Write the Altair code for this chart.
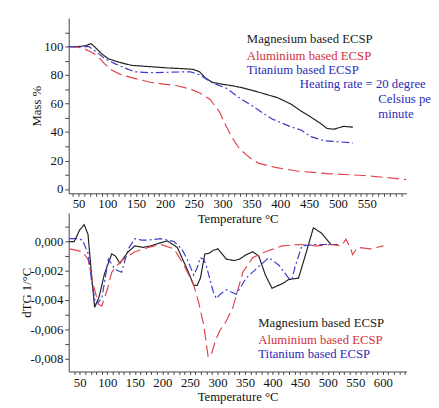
import altair as alt
import pandas as pd

FONT = "Liberation Serif"
SERIES = ["Magnesium based ECSP", "Aluminium based ECSP", "Titanium based ECSP"]
COLORS = ["#222222", "#e2444c", "#3a3acc"]
TEXT_COLORS = ["#1a1a1a", "#d4303a", "#2c2cb8"]
DASHES = [[1, 0], [12, 5], [8, 3, 2, 3]]

# ---- TG (mass %) ----
mg_t = [33, 50, 62, 68, 72, 80, 90, 102, 120, 142, 170, 204, 230, 249, 260, 270, 283, 300, 317, 335, 351, 375, 396, 419, 435, 453, 470, 481, 493, 510, 526]
mg_m = [100, 100, 100.5, 101.5, 102, 99, 95, 91.4, 89, 86.8, 86, 85, 84.5, 84, 82.3, 78, 74.8, 73.5, 72.5, 71, 69.3, 66.5, 64, 59.5, 55, 50.5, 46, 42.5, 42, 44, 43.4]
al_t = [33, 50, 62, 75, 85, 95, 108, 125, 147, 176, 200, 221, 244, 262, 278, 295, 305, 317, 328, 340, 352, 363, 391, 431, 487, 544, 580, 619]
al_m = [100, 99.5, 98, 95.5, 92.5, 88, 83.4, 80, 77.7, 74.8, 73.5, 72.5, 70.2, 67, 63, 53.9, 45, 35.7, 29, 24.3, 20.5, 18, 15.2, 12.5, 10.7, 9.5, 8.2, 6.6]
ti_t = [33, 50, 68, 80, 91, 100, 113, 130, 147, 176, 210, 244, 261, 283, 306, 329, 351, 385, 419, 436, 453, 476, 500, 526]
ti_m = [100, 100, 100, 96.5, 93, 90.5, 88, 85, 82.3, 81.6, 82, 82.3, 80, 74.3, 70.9, 64, 58.4, 49.3, 43.6, 41.4, 36.8, 33.9, 33.2, 32.3]

# ---- dTG ----
mgd_t = [31, 40, 50, 58, 65, 72, 77, 85, 95, 108, 115, 123, 130, 138, 150, 165, 179, 195, 209, 227, 245, 257, 263, 269, 277, 285, 292, 301, 316, 330, 340, 352, 364, 375, 387, 399, 410, 417, 429, 447, 459, 474, 488, 506, 518]
mgd_v = [0.0, 0.0, 0.0008, 0.00116, 0.0005, -0.0025, -0.0045, -0.0038, -0.0022, -0.00085, -0.001, -0.0015, -0.0011, -0.0007, -0.0003, -0.0004, -0.0003, -0.0001, 0.00004, -0.0004, -0.0019, -0.003, -0.003, -0.0025, -0.00085, -0.0008, -0.0006, -0.0005, -0.0012, -0.0013, -0.0012, -0.0009, -0.0007, -0.001, -0.0023, -0.0032, -0.003, -0.0029, -0.0026, -0.0025, -0.001, 0.00094, 0.0006, -0.0002, -0.0002]
ald_t = [31, 45, 55, 65, 75, 84, 90, 100, 108, 126, 150, 175, 197, 221, 239, 257, 266, 275, 283, 289, 296, 304, 315, 328, 337, 346, 364, 387, 417, 447, 480, 506, 525, 533, 538, 542, 545, 554, 577, 601]
ald_v = [-0.0005, -0.0006, -0.0007, -0.0012, -0.003, -0.0043, -0.0044, -0.0033, -0.0021, -0.0013, -0.0007, -0.0004, -0.0002, -0.0005, -0.0016, -0.003, -0.0042, -0.0057, -0.0079, -0.0077, -0.0068, -0.0061, -0.0055, -0.0045, -0.0033, -0.0021, -0.0011, -0.0007, -0.0003, -0.0002, -0.0003, -0.0002, -0.0003, 0.00016, -0.0002, -0.0005, -0.0009, -0.0004, -0.0005, -0.0003]
tid_t = [31, 45, 55, 65, 72, 79, 90, 102, 114, 126, 138, 150, 162, 174, 197, 221, 235, 245, 257, 263, 269, 275, 280, 292, 298, 305, 316, 334, 352, 375, 393, 411, 429, 435, 441, 453, 477, 506]
tid_v = [0.0002, 0.0002, 0.0001, -0.0008, -0.0028, -0.0043, -0.0039, -0.0012, -0.0019, -0.0021, -0.0005, 0.0002, 0.0001, 0.0001, 0.0002, 0.0, -0.0005, -0.0012, -0.0023, -0.0018, -0.0011, -0.0012, -0.0017, -0.0034, -0.0039, -0.0036, -0.0033, -0.0036, -0.0025, -0.0017, -0.0011, -0.0016, -0.0025, -0.0026, -0.0017, -0.0003, -0.0002, -0.0002]

top_notes = ["Magnesium based ECSP", "Aluminium based ECSP", "Titanium based ECSP",
             "Heating rate = 20 degree", "Celsius per", "minute"]
bottom_notes = ["Magnesium based ECSP", "Aluminium based ECSP", "Titanium based ECSP"]


def frame(ts, vs, name):
    return pd.DataFrame({"t": ts, "v": vs, "s": name})


top_df = pd.concat([frame(mg_t, mg_m, SERIES[0]), frame(al_t, al_m, SERIES[1]), frame(ti_t, ti_m, SERIES[2])])
bot_df = pd.concat([frame(mgd_t, mgd_v, SERIES[0]), frame(ald_t, ald_v, SERIES[1]), frame(tid_t, tid_v, SERIES[2])])

color = alt.Color("s:N", scale=alt.Scale(domain=SERIES, range=COLORS), legend=None)
dash = alt.StrokeDash("s:N", scale=alt.Scale(domain=SERIES, range=DASHES), legend=None)
order = alt.Order("t:Q")
tcolor = alt.Color("c:N", scale=None)

axis_common = dict(labelOverlap=False, labelFlush=False, grid=False)

# ---------- top panel ----------
x_top = alt.X("t:Q", scale=alt.Scale(domain=[33, 619], nice=False, zero=False),
              axis=alt.Axis(values=list(range(40, 620, 10)), tickSize=3,
                            labelExpr="datum.value % 50 == 0 && datum.value <= 550 ? datum.label : ''",
                            title="Temperature °C", titlePadding=2, **axis_common))
y_top = alt.Y("v:Q", scale=alt.Scale(domain=[-3, 120], nice=False, zero=False),
              axis=alt.Axis(values=list(range(0, 111, 10)), tickSize=4,
                            labelExpr="datum.value % 20 == 0 && datum.value <= 100 ? datum.label : ''",
                            title="Mass %", titleX=-26, **axis_common))

top_lines = alt.Chart(top_df).mark_line(strokeWidth=1.2, clip=True).encode(
    x=x_top, y=y_top, color=color, strokeDash=dash, order=order)

top_text_df = pd.DataFrame({
    "t": [342, 342, 342, 434, 570, 570],
    "v": [105, 93.5, 83.3, 73.7, 62.8, 52.6],
    "label": top_notes,
    "c": [TEXT_COLORS[0], TEXT_COLORS[1], TEXT_COLORS[2], TEXT_COLORS[2], TEXT_COLORS[2], TEXT_COLORS[2]],
})
top_text_main = alt.Chart(top_text_df.iloc[:4]).mark_text(
    align="left", baseline="middle", font=FONT, fontSize=13).encode(
    x=x_top, y=y_top, text="label:N", color=tcolor)
top_text_edge = alt.Chart(top_text_df.iloc[4:]).mark_text(
    align="left", baseline="middle", font=FONT, fontSize=13, limit=54, ellipsis="\u200b").encode(
    x=x_top, y=y_top, text="label:N", color=tcolor)

top = alt.layer(top_lines, top_text_main, top_text_edge).properties(width=345, height=179)

# ---------- bottom panel ----------
x_bot = alt.X("t:Q", scale=alt.Scale(domain=[30, 643], nice=False, zero=False),
              axis=alt.Axis(values=list(range(40, 641, 10)), tickSize=3,
                            labelExpr="datum.value % 50 == 0 && datum.value <= 600 ? datum.label : ''",
                            title="Temperature °C", titlePadding=2, **axis_common))
y_vals = [round(-0.008 + 0.001 * i, 3) for i in range(10)]
y_bot = alt.Y("v:Q", scale=alt.Scale(domain=[-0.00889, 0.00196], nice=False, zero=False),
              axis=alt.Axis(values=y_vals, tickSize=4,
                            labelExpr="(round(datum.value*1000) % 2 == 0 && datum.value < 0.0005) ? ((datum.value < -0.00001 ? '-' : '') + replace(format(abs(datum.value), '.3f'), '.', ',')) : ''",
                            title="dTG 1/°C", titleX=-36, **axis_common))

bot_lines = alt.Chart(bot_df).mark_line(strokeWidth=1.2, clip=True).encode(
    x=x_bot, y=y_bot, color=color, strokeDash=dash, order=order)

bot_text_df = pd.DataFrame({
    "t": [374, 374, 374],
    "v": [-0.0056, -0.00675, -0.00768],
    "label": bottom_notes,
    "c": TEXT_COLORS,
})
bot_text = alt.Chart(bot_text_df).mark_text(align="left", baseline="middle", font=FONT, fontSize=13).encode(
    x=x_bot, y=y_bot, text="label:N", color=tcolor)

bottom = alt.layer(bot_lines, bot_text).properties(width=345, height=162)

chart = alt.vconcat(top, bottom, spacing=20, bounds="flush").properties(
    padding={"left": 13, "top": 6, "right": 0, "bottom": 0},
    background="white",
).configure_view(stroke=None).configure_axis(
    labelFont=FONT, labelFontSize=13, labelColor="#111",
    titleFont=FONT, titleFontSize=13, titleFontWeight="normal", titleColor="#111",
    domainColor="#444", tickColor="#444", labelPadding=2,
).configure_text(font=FONT)

chart.save("out.html", embed_options={"renderer": "svg", "actions": False})
